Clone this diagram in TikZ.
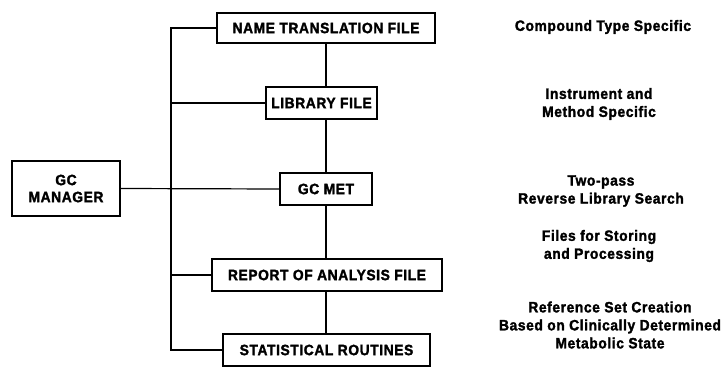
\documentclass[tikz,border=0pt]{standalone}
\usepackage{fontspec}
\setmainfont{Liberation Sans}[FakeStretch=0.92,LetterSpace=4,FakeBold=1.8]
\begin{document}
\begin{tikzpicture}[x=1pt,y=-1pt,
  box/.style={draw,line width=1.3pt,inner sep=0pt,font=\fontsize{15}{17}\selectfont\bfseries},
  lbl/.style={align=center,inner sep=0pt,font=\fontsize{15}{18}\selectfont\bfseries},
  conn/.style={line width=1.2pt}]
\useasboundingbox (0,0) rectangle (724,375);
\node[box,minimum width=218pt,minimum height=30pt] (ntf) at (326,28) {NAME TRANSLATION FILE};
\node[box,minimum width=111pt,minimum height=32pt] (lib) at (321.5,103) {LIBRARY FILE};
\node[box,minimum width=108pt,minimum height=55pt,align=center] (mgr) at (66,188.5) {GC\\MANAGER};
\node[box,minimum width=92pt,minimum height=32pt] (met) at (326,189) {GC MET};
\node[box,minimum width=230pt,minimum height=32pt] (rep) at (327,275) {REPORT OF ANALYSIS FILE};
\node[box,minimum width=207pt,minimum height=32pt] (stat) at (326.5,350) {STATISTICAL ROUTINES};
\coordinate (tb) at (171,350);
\draw[conn] (ntf.west) -| (tb) -- (stat.west);
\draw[conn] (lib.west) -- (lib.west -| tb);
\draw[conn] (rep.west) -- (rep.west -| tb);
\draw[conn] (mgr.east) -- (met.west);
\draw[conn] (ntf.south) -- (ntf.south |- lib.north);
\draw[conn] (ntf.south |- lib.south) -- (met.north);
\draw[conn] (met.south) -- (met.south |- rep.north);
\draw[conn] (met.south |- rep.south) -- (met.south |- stat.north);
\node[lbl] (l1) at (603,27) {Compound Type Specific};
\node[lbl] (l2) at (599,104) {Instrument and\\Method Specific};
\node[lbl] (l3) at (601,191) {Two-pass\\Reverse Library Search};
\node[lbl] (l4) at (599,246) {Files for Storing\\and Processing};
\node[lbl] (l5) at (610,325) {Reference Set Creation\\Based on Clinically Determined\\Metabolic State};
\end{tikzpicture}
\end{document}
